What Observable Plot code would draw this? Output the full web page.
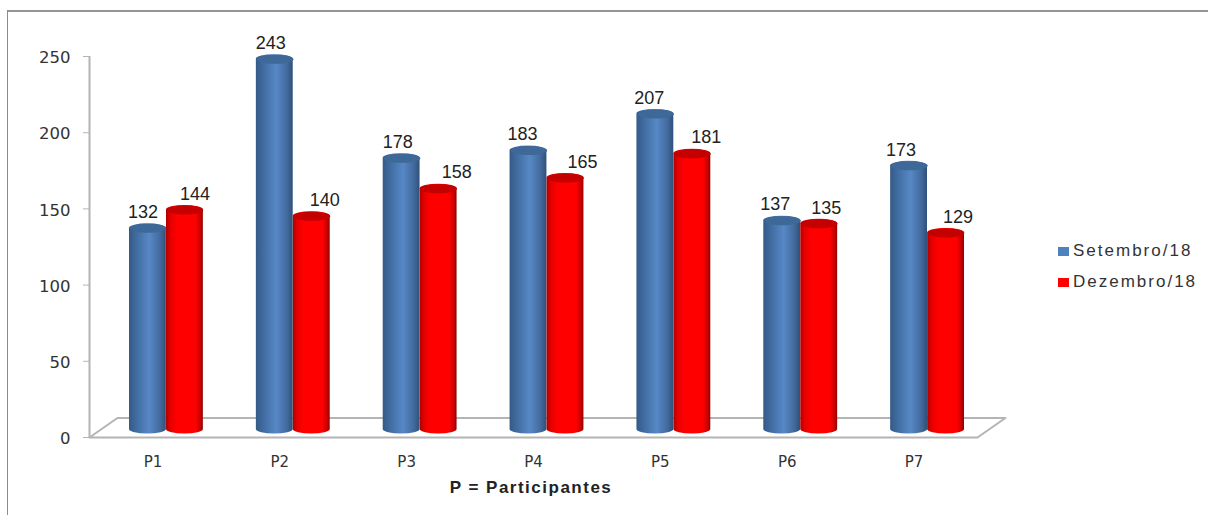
<!DOCTYPE html>
<html>
<head>
<meta charset="utf-8">
<script src="https://cdn.jsdelivr.net/npm/d3@7"></script>
<script src="https://cdn.jsdelivr.net/npm/@observablehq/plot@0.6"></script>
<style>
  html, body { margin: 0; background: #fff; }
  #chart { position: relative; width: 1208px; height: 515px; overflow: hidden; }
  #chart svg { position: absolute; left: 0; top: 0; }
  .legend { position: absolute; left: 1058px; top: 240px; font: 17px "Liberation Sans", Arial, sans-serif; color: #333; letter-spacing: 2px; }
  .legend div { height: 31px; line-height: 21px; white-space: nowrap; }
  .legend i { display: inline-block; width: 11px; height: 9px; margin-right: 4px; letter-spacing: 0; }
  .frame-top { position: absolute; left: 7px; right: 0; top: 10px; height: 2px; background: #959595; }
  .frame-left { position: absolute; left: 7px; top: 10px; bottom: 0; width: 1px; background: #8c8c8c; }
</style>
</head>
<body>
<div id="chart"></div>
<script>
const participants = ["P1", "P2", "P3", "P4", "P5", "P6", "P7"];
const september = [132, 243, 178, 183, 207, 137, 173];
const december = [144, 140, 158, 165, 181, 135, 129];
const yTicks = [0, 50, 100, 150, 200, 250];
const seriesNames = ["Setembro/18", "Dezembro/18"];
const xTitle = "P = Participantes";

// Corners of the floor, in scale units.
const floorX = [0, 0.22, 7.22, 7, 0];
const floorY = [0, 12.8, 12.8, 0, 0];
const floor = floorX.map((x, i) => ({x, y: floorY[i]}));

const septemberRows = september.map((value, i) => ({i, value, name: participants[i]}));
const decemberRows = december.map((value, i) => ({i, value, name: participants[i]}));

const grey = "#b4b4b4";
const lift = -8;             // depth shift of the columns above the front plane
const capRy = 4.5;
const radius = 18.3;

// Horizontal placement of each value label relative to its column.
const septemberLabelDx = [-10, -9, -9, -11, -11, -12, -13];
const decemberLabelDx = [42, 45, 50, 49, 46, 39, 44];

// Flat ellipse used as the lid of each cylinder.
const lid = {
  draw(ctx) {
    const a = radius, b = capRy, k = 0.5523;
    ctx.moveTo(-a, 0);
    ctx.bezierCurveTo(-a, -b * k, -a * k, -b, 0, -b);
    ctx.bezierCurveTo(a * k, -b, a, -b * k, a, 0);
    ctx.bezierCurveTo(a, b * k, a * k, b, 0, b);
    ctx.bezierCurveTo(-a * k, b, -a, b * k, -a, 0);
    ctx.closePath();
  }
};

function gradientDefs() {
  const ns = "http://www.w3.org/2000/svg";
  const defs = document.createElementNS(ns, "defs");
  const specs = {
    blueBody: [[0, "#345a86"], [0.18, "#3f6a9e"], [0.55, "#5788c6"], [0.85, "#42699c"], [1, "#2f5078"]],
    redBody: [[0, "#b00000"], [0.12, "#e60000"], [0.3, "#ff0000"], [0.8, "#ff0000"], [0.93, "#c80000"], [1, "#8e0000"]]
  };
  for (const [id, stops] of Object.entries(specs)) {
    const g = document.createElementNS(ns, "linearGradient");
    g.setAttribute("id", id);
    for (const [offset, color] of stops) {
      const s = document.createElementNS(ns, "stop");
      s.setAttribute("offset", offset);
      s.setAttribute("stop-color", color);
      g.appendChild(s);
    }
    defs.appendChild(g);
  }
  return defs;
}

function column(rows, insetLeft, insetRight, fill) {
  return Plot.rect(rows, {
    x1: d => d.i,
    x2: d => d.i + 1,
    y1: () => 0,
    y2: d => d.value,
    insetLeft,
    insetRight,
    insetTop: -capRy,
    insetBottom: -capRy,
    dy: lift,
    rx: radius,
    ry: capRy,
    fill
  });
}

function lids(rows, dx, fill) {
  return Plot.dot(rows, {
    x: d => d.i + 0.5,
    y: d => d.value,
    dx,
    dy: lift,
    symbol: lid,
    fill,
    stroke: "none"
  });
}

function labels(rows, offsets) {
  return rows.map((row, i) => Plot.text([row], {
    x: d => d.i + 0.5,
    y: d => d.value,
    text: d => String(d.value),
    dx: offsets[i],
    dy: -24,
    fontSize: 18,
    fontFamily: "Liberation Sans, Arial, sans-serif",
    fill: "#222"
  }));
}

const plot = Plot.plot({
  width: 1208,
  height: 515,
  marginLeft: 89,
  marginRight: 231,
  marginTop: 56,
  marginBottom: 78,
  x: {type: "linear", domain: [0, 7]},
  y: {domain: [0, 250]},
  style: {background: "transparent"},
  marks: [
    gradientDefs,
    Plot.line(floor, {x: "x", y: "y", stroke: grey, strokeWidth: 2}),
    Plot.ruleX([0], {y1: 0, y2: 250, stroke: grey, strokeWidth: 2}),
    Plot.axisY({
      ticks: yTicks,
      tickSize: 6,
      label: null,
      stroke: grey,
      text: null
    }),
    Plot.text(yTicks, {
      x: () => 0,
      y: d => d,
      text: d => String(d),
      textAnchor: "end",
      dx: -19,
      dy: 1.5,
      fill: "#333",
      fontSize: 16.5,
      fontFamily: "DejaVu Sans, Verdana, sans-serif"
    }),
    Plot.axisX({
      ticks: participants.map((_, i) => i + 0.5),
      tickFormat: t => participants[Math.floor(t)],
      tickSize: 0,
      tickPadding: 19,
      label: null,
      fill: "#333",
      fontSize: 15,
      fontFamily: "DejaVu Sans, Verdana, sans-serif"
    }),
    column(septemberRows, 40, 50, "url(#blueBody)"),
    lids(septemberRows, -4.7, "#3e6897"),
    column(decemberRows, 77, 13, "url(#redBody)"),
    lids(decemberRows, 32, "#c40000"),
    labels(septemberRows, septemberLabelDx),
    labels(decemberRows, decemberLabelDx),
    Plot.text([xTitle], {
      frameAnchor: "bottom",
      x: () => 3.48,
      dy: 50,
      lineAnchor: "middle",
      fontSize: 17,
      fontWeight: "bold",
      fontFamily: "Liberation Sans, Arial, sans-serif",
      fill: "#222"
    })
  ]
});

const chart = document.getElementById("chart");
chart.appendChild(plot);
plot.querySelectorAll("text").forEach(t => {
  if (t.textContent === xTitle) t.style.letterSpacing = "1.5px";
});

// Outer chart frame, open on the right and bottom.
for (const cls of ["frame-top", "frame-left"]) {
  const el = document.createElement("div");
  el.className = cls;
  chart.appendChild(el);
}

// Series key to the right of the plot.
const legend = document.createElement("div");
legend.className = "legend";
[["#4f81bd", seriesNames[0]], ["#ff0000", seriesNames[1]]].forEach(([color, name]) => {
  const row = document.createElement("div");
  const swatch = document.createElement("i");
  swatch.style.background = color;
  row.append(swatch, name);
  legend.appendChild(row);
});
chart.appendChild(legend);
</script>
</body>
</html>
